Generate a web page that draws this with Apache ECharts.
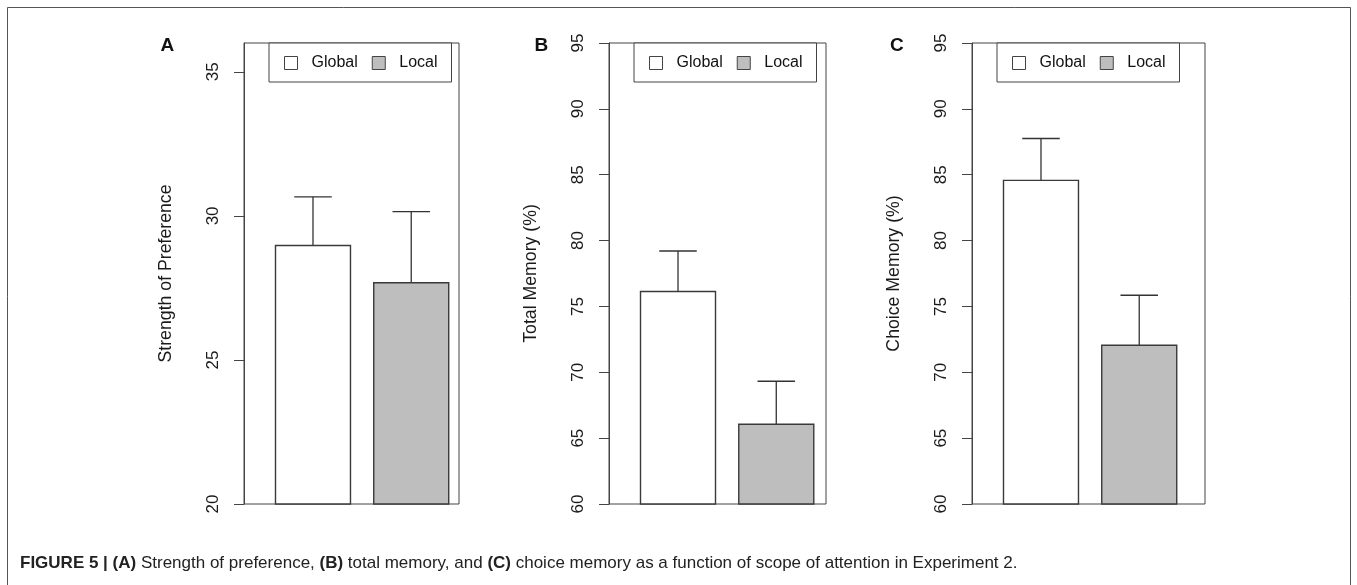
<!DOCTYPE html>
<html>
<head>
<meta charset="utf-8">
<script src="https://cdn.jsdelivr.net/npm/echarts@6/dist/echarts.min.js"></script>
<style>
html, body { margin: 0; padding: 0; background: #fff; }
#chart { width: 1357px; height: 585px; }
</style>
</head>
<body>
<div id="chart"></div>
<script>
// values (bar = mean, whisker = +1 SE)
var categories = ['Global', 'Local'];
var prefMean = [28.97, 27.68];
var prefSE = [1.69, 2.47];
var totalMean = [76.13, 66.05];
var totalSE = [3.08, 3.27];
var choiceMean = [84.57, 72.05];
var choiceSE = [3.18, 3.80];
var prefTicks = [20, 25, 30, 35];
var memTicks = [60, 65, 70, 75, 80, 85, 90, 95];

var FONT = '"Liberation Sans", Arial, Helvetica, sans-serif';
var fills = ['#ffffff', '#bebebe'];
var barCenters = [0.92, 2.23];

var panels = [
  { letter: 'A', letterX: 160.5, left: 244, width: 215, xMax: 2.867, yMin: 20, yMax: 36, ticks: prefTicks,
    name: 'Strength of Preference', mean: prefMean, se: prefSE },
  { letter: 'B', letterX: 534.5, left: 609, width: 217, xMax: 2.893, yMin: 60, yMax: 95, ticks: memTicks,
    name: 'Total Memory (%)', mean: totalMean, se: totalSE },
  { letter: 'C', letterX: 890, left: 972, width: 233, xMax: 3.107, yMin: 60, yMax: 95, ticks: memTicks,
    name: 'Choice Memory (%)', mean: choiceMean, se: choiceSE }
];

function renderBar(params, api) {
  var cs = params.coordSys;
  var x = api.value(0), m = api.value(1), e = api.value(2);
  var top = api.coord([x, m]);
  var hi = api.coord([x, m + e]);
  var w = api.size([1, 0])[0];
  var cap = w * 0.25;
  var bottom = cs.y + cs.height;
  return {
    type: 'group',
    children: [
      { type: 'line', shape: { x1: top[0], y1: top[1], x2: hi[0], y2: hi[1] },
        style: { stroke: '#333', lineWidth: 1.3 } },
      { type: 'line', shape: { x1: hi[0] - cap, y1: hi[1], x2: hi[0] + cap, y2: hi[1] },
        style: { stroke: '#333', lineWidth: 1.3 } },
      { type: 'rect', shape: { x: top[0] - w / 2, y: top[1], width: w, height: bottom - top[1] },
        style: api.style({ stroke: '#3a3a3a', lineWidth: 1.4 }) }
    ]
  };
}

var grids = [], xAxes = [], yAxes = [], series = [], legends = [], graphics = [];

panels.forEach(function (p, i) {
  grids.push({ left: p.left, top: 43, width: p.width, height: 461, show: true,
    borderColor: '#444', borderWidth: 1 });
  xAxes.push({ type: 'value', gridIndex: i, min: 0, max: p.xMax, show: false });
  yAxes.push({
    type: 'value', gridIndex: i, min: p.yMin, max: p.yMax, interval: 5,
    name: p.name, nameLocation: 'middle', nameGap: 69,
    nameTextStyle: { fontFamily: FONT, fontSize: 17.7, color: '#1a1a1a' },
    axisLine: { show: true, lineStyle: { color: '#444', width: 1 } },
    axisTick: { show: true, length: 10, customValues: p.ticks, lineStyle: { color: '#444' } },
    axisLabel: { rotate: 90, margin: 22, customValues: p.ticks, fontFamily: FONT, fontSize: 17, color: '#1a1a1a' },
    splitLine: { show: false }
  });
  categories.forEach(function (c, k) {
    series.push({
      type: 'custom', name: c, xAxisIndex: i, yAxisIndex: i,
      itemStyle: { color: fills[k], borderColor: '#3a3a3a' },
      renderItem: renderBar,
      data: [[barCenters[k], p.mean[k], p.se[k]]],
      silent: true
    });
  });
  legends.push({
    left: p.left + 25, top: 43, orient: 'horizontal', selectedMode: false,
    padding: [12, 14, 11, 15], itemGap: 14, itemWidth: 13, itemHeight: 13,
    borderColor: '#444', borderWidth: 1, backgroundColor: '#fff', icon: 'rect',
    textStyle: { fontFamily: FONT, fontSize: 16, color: '#111', padding: [0, 0, 0, 9] },
    data: categories.map(function (c, k) {
      return { name: c, itemStyle: { color: fills[k], borderColor: '#444', borderWidth: 1 } };
    })
  });
  graphics.push({
    type: 'text', left: p.letterX, top: 36,
    style: { text: p.letter, font: 'bold 19px ' + FONT, fill: '#111' }
  });
});

// figure frame (bottom edge runs off the page)
graphics.push({
  type: 'rect', shape: { x: 7.5, y: 7.5, width: 1343, height: 600 },
  style: { fill: 'none', stroke: '#555', lineWidth: 1 }, silent: true
});

var chart = echarts.init(document.getElementById('chart'), null, { renderer: 'canvas' });
chart.setOption({
  animation: false,
  backgroundColor: '#fff',
  title: {
    left: 15, top: 550,
    text: '{b|FIGURE 5 | (A)} Strength of preference, {b|(B)} total memory, and {b|(C)} choice memory as a function of scope of attention in Experiment 2.',
    textStyle: {
      fontFamily: FONT, fontSize: 17, fontWeight: 'normal', color: '#222',
      rich: { b: { fontFamily: FONT, fontSize: 17, fontWeight: 'bold', color: '#222' } }
    }
  },
  grid: grids,
  xAxis: xAxes,
  yAxis: yAxes,
  legend: legends,
  series: series,
  graphic: graphics
});
</script>
</body>
</html>
